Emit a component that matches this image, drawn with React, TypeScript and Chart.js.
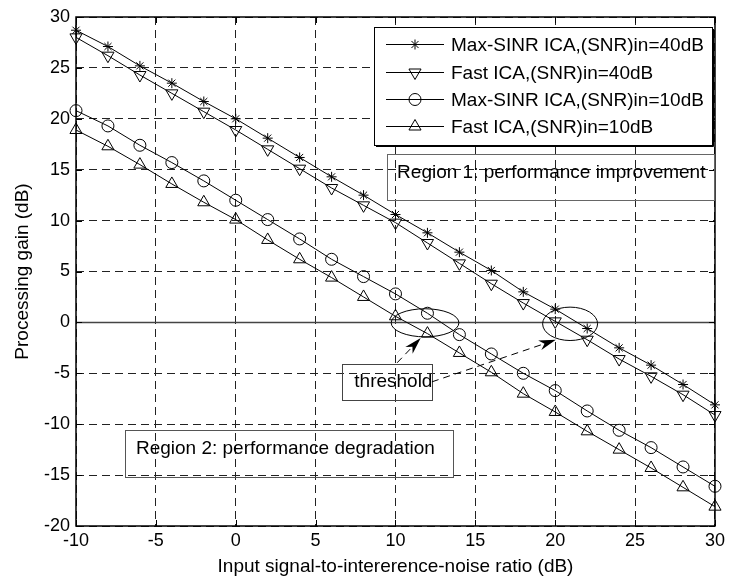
import React, { useEffect, useRef } from 'react';
import { Chart, registerables } from 'chart.js';

Chart.register(...registerables);

// ---------- data ----------
const xValues = [-10, -8, -6, -4, -2, 0, 2, 4, 6, 8, 10, 12, 14, 16, 18, 20, 22, 24, 26, 28, 30];
const maxSinr40 = [28.7, 27.1, 25.2, 23.5, 21.7, 20.0, 18.1, 16.2, 14.3, 12.5, 10.6, 8.8, 6.9, 5.1, 3.0, 1.3, -0.6, -2.5, -4.2, -6.1, -8.1];
const fastIca40 = [28.0, 26.2, 24.3, 22.5, 20.7, 18.9, 17.0, 15.1, 13.2, 11.5, 9.8, 7.8, 5.8, 3.8, 1.9, 0.1, -1.7, -3.6, -5.3, -7.1, -9.1];
const maxSinr10 = [20.8, 19.3, 17.4, 15.7, 13.9, 12.0, 10.1, 8.2, 6.2, 4.5, 2.8, 0.9, -1.2, -3.1, -5.0, -6.7, -8.7, -10.6, -12.3, -14.2, -16.1];
const fastIca10 = [18.9, 17.3, 15.5, 13.6, 11.8, 10.1, 8.1, 6.2, 4.4, 2.5, 0.6, -1.1, -3.0, -4.9, -7.0, -8.8, -10.7, -12.5, -14.3, -16.2, -18.1];

const seriesLabels = [
  'Max-SINR ICA,(SNR)in=40dB',
  'Fast ICA,(SNR)in=40dB',
  'Max-SINR ICA,(SNR)in=10dB',
  'Fast ICA,(SNR)in=10dB',
];
const xTitle = 'Input signal-to-intererence-noise ratio (dB)';
const yTitle = 'Processing gain (dB)';
const region1Text = 'Region 1: performance improvement';
const region2Text = 'Region 2: performance degradation';
const thresholdText = 'threshold';

const X_MIN = -10, X_MAX = 30, X_STEP = 5;
const Y_MIN = -20, Y_MAX = 30, Y_STEP = 5;

// ---------- styles / annotation geometry (data coordinates) ----------
const FONT = '"Liberation Sans", Arial, Helvetica, sans-serif';
const TEXT_SIZE = 19;
const TICK_SIZE = 18;

const textBoxes = [
  { text: region1Text, x1: 9.48, x2: 29.95, y1: 16.58, y2: 12.06, tx: 10.1, ty: 14.7, color: '#666' },
  { text: region2Text, x1: -6.94, x2: 13.6, y1: -10.56, y2: -15.18, tx: -6.25, ty: -12.45, color: '#555' },
  { text: thresholdText, x1: 6.67, x2: 12.28, y1: -4.07, y2: -7.6, tx: 7.42, ty: -5.84, color: '#444' },
];
const ellipses = [
  { cx: 11.85, cy: -0.04, rx: 2.12, ry: 1.38 },
  { cx: 20.93, cy: -0.14, rx: 1.72, ry: 1.64 },
];
const arrows = [
  { x1: 10.1, y1: -3.97, x2: 11.58, y2: -1.54 },
  { x1: 12.28, y1: -5.84, x2: 20.04, y2: -1.71 },
];

type Marker = 'star' | 'down' | 'circle' | 'up';
const markers: Marker[] = ['star', 'down', 'circle', 'up'];
const markerRadius: Record<Marker, number> = { star: 5, down: 7, circle: 6, up: 7 };

function drawMarker(ctx: CanvasRenderingContext2D, m: Marker, x: number, y: number) {
  const r = markerRadius[m];
  ctx.beginPath();
  if (m === 'star') {
    const d = r * Math.SQRT1_2;
    ctx.moveTo(x - r, y); ctx.lineTo(x + r, y);
    ctx.moveTo(x, y - r); ctx.lineTo(x, y + r);
    ctx.moveTo(x - d, y - d); ctx.lineTo(x + d, y + d);
    ctx.moveTo(x - d, y + d); ctx.lineTo(x + d, y - d);
  } else if (m === 'circle') {
    ctx.arc(x, y, r, 0, Math.PI * 2);
  } else {
    const s = m === 'up' ? 1 : -1;
    const h = r * Math.sin(Math.PI / 3);
    ctx.moveTo(x, y - s * r);
    ctx.lineTo(x + h, y + s * r / 2);
    ctx.lineTo(x - h, y + s * r / 2);
    ctx.closePath();
  }
  ctx.stroke();
}

function drawArrow(ctx: CanvasRenderingContext2D, x1: number, y1: number, x2: number, y2: number) {
  const ang = Math.atan2(y2 - y1, x2 - x1);
  const len = 17, half = 5, notch = 12;
  const cos = Math.cos(ang), sin = Math.sin(ang);
  const bx = x2 - cos * notch, by = y2 - sin * notch;
  ctx.save();
  ctx.setLineDash([7, 5]);
  ctx.lineWidth = 1;
  ctx.strokeStyle = '#000';
  ctx.beginPath();
  ctx.moveTo(x1, y1);
  ctx.lineTo(bx, by);
  ctx.stroke();
  ctx.setLineDash([]);
  ctx.fillStyle = '#000';
  ctx.beginPath();
  ctx.moveTo(x2, y2);
  ctx.lineTo(x2 - cos * len - sin * half, y2 - sin * len + cos * half);
  ctx.lineTo(bx, by);
  ctx.lineTo(x2 - cos * len + sin * half, y2 - sin * len - cos * half);
  ctx.closePath();
  ctx.fill();
  ctx.restore();
}

const overlayPlugin = {
  id: 'overlay',
  beforeDatasetsDraw(chart: any) {
    const { ctx, chartArea: a, scales } = chart;
    const y0 = Math.round(scales.y.getPixelForValue(0)) + 0.5;
    ctx.save();
    ctx.strokeStyle = '#444';
    ctx.lineWidth = 1.5;
    ctx.beginPath();
    ctx.moveTo(a.left, y0);
    ctx.lineTo(a.right, y0);
    ctx.stroke();
    ctx.restore();
  },
  afterDatasetsDraw(chart: any) {
    const { ctx, chartArea: a, scales } = chart;
    const xs = scales.x, ys = scales.y;
    const px = (v: number) => xs.getPixelForValue(v);
    const py = (v: number) => ys.getPixelForValue(v);
    ctx.save();
    // box
    ctx.strokeStyle = '#000';
    ctx.lineWidth = 1.5;
    ctx.strokeRect(a.left, a.top, a.right - a.left, a.bottom - a.top);
    // inward ticks
    ctx.lineWidth = 1;
    ctx.beginPath();
    for (let v = X_MIN; v <= X_MAX; v += X_STEP) {
      const p = Math.round(px(v)) + 0.5;
      ctx.moveTo(p, a.bottom); ctx.lineTo(p, a.bottom - 6);
      ctx.moveTo(p, a.top); ctx.lineTo(p, a.top + 6);
    }
    for (let v = Y_MIN; v <= Y_MAX; v += Y_STEP) {
      const p = Math.round(py(v)) + 0.5;
      ctx.moveTo(a.left, p); ctx.lineTo(a.left + 6, p);
      ctx.moveTo(a.right, p); ctx.lineTo(a.right - 6, p);
    }
    ctx.stroke();

    // text boxes
    ctx.font = `${TEXT_SIZE}px ${FONT}`;
    ctx.textBaseline = 'middle';
    ctx.textAlign = 'left';
    for (const b of textBoxes) {
      const l = Math.round(px(b.x1)) + 0.5, r = Math.round(px(b.x2)) + 0.5;
      const t = Math.round(py(b.y1)) + 0.5, bt = Math.round(py(b.y2)) + 0.5;
      ctx.strokeStyle = b.color;
      ctx.lineWidth = 1;
      ctx.strokeRect(l, t, r - l, bt - t);
      ctx.fillStyle = '#000';
      ctx.fillText(b.text, px(b.tx), py(b.ty));
    }

    // ellipses
    ctx.strokeStyle = '#000';
    ctx.lineWidth = 1;
    for (const e of ellipses) {
      const cx = px(e.cx), cy = py(e.cy);
      const rx = Math.abs(px(e.cx + e.rx) - cx), ry = Math.abs(py(e.cy + e.ry) - cy);
      ctx.beginPath();
      ctx.ellipse(cx, cy, rx, ry, 0, 0, Math.PI * 2);
      ctx.stroke();
    }

    // arrows
    for (const ar of arrows) {
      drawArrow(ctx, px(ar.x1), py(ar.y1), px(ar.x2), py(ar.y2));
    }

    // legend
    const lx = a.left + 298, ly = a.top + 10, lw = 338, lh = 118;
    ctx.fillStyle = '#fff';
    ctx.fillRect(lx, ly, lw, lh);
    ctx.strokeStyle = '#000';
    ctx.lineWidth = 1;
    ctx.strokeRect(lx + 0.5, ly + 0.5, lw, lh);
    ctx.lineWidth = 1;
    ctx.beginPath();
    ctx.moveTo(lx + lw + 1.5, ly + 2); ctx.lineTo(lx + lw + 1.5, ly + lh + 1.5);
    ctx.lineTo(lx + 2, ly + lh + 1.5);
    ctx.stroke();
    const rows = [17, 45, 72, 99];
    ctx.font = `${TEXT_SIZE}px ${FONT}`;
    ctx.textBaseline = 'middle';
    ctx.textAlign = 'left';
    seriesLabels.forEach((lab, i) => {
      const yy = ly + rows[i] + 0.5;
      ctx.strokeStyle = '#000';
      ctx.lineWidth = 1;
      ctx.beginPath();
      ctx.moveTo(lx + 12, yy);
      ctx.lineTo(lx + 70, yy);
      ctx.stroke();
      drawMarker(ctx, markers[i], lx + 41, yy);
      ctx.fillStyle = '#000';
      ctx.fillText(lab, lx + 77, yy + 1);
    });
    ctx.restore();
  },
};

const seriesValues = [maxSinr40, fastIca40, maxSinr10, fastIca10];

export default function App() {
  const ref = useRef<HTMLCanvasElement>(null);
  useEffect(() => {
    const canvas = ref.current;
    if (!canvas) return;
    const datasets = seriesValues.map((vals, i) => {
      const m = markers[i];
      return {
        label: seriesLabels[i],
        data: xValues.map((x, j) => ({ x, y: vals[j] })),
        borderColor: '#000',
        borderWidth: 1,
        pointStyle: m === 'star' ? 'star' : m === 'circle' ? 'circle' : 'triangle',
        pointRotation: m === 'down' ? 180 : 0,
        pointRadius: markerRadius[m],
        pointBorderColor: '#000',
        pointBackgroundColor: 'rgba(0,0,0,0)',
        pointBorderWidth: 1,
        tension: 0,
        clip: false as any,
      };
    });
    const chart = new Chart(canvas, {
      type: 'line',
      data: { datasets: datasets as any },
      options: {
        animation: false,
        responsive: false,
        devicePixelRatio: 1,
        layout: { padding: { left: 0, top: 17, right: 12, bottom: 0 } },
        plugins: { legend: { display: false }, tooltip: { enabled: false } },
        scales: {
          x: {
            type: 'linear',
            min: X_MIN,
            max: X_MAX,
            afterFit: (s: any) => { s.height = 55; },
            ticks: { stepSize: X_STEP, color: '#000', font: { family: FONT, size: TICK_SIZE }, padding: 4, maxRotation: 0 },
            grid: { color: '#222', lineWidth: 1, drawTicks: false },
            border: { display: false, dash: [8, 5] },
            title: { display: true, text: xTitle, color: '#000', font: { family: FONT, size: TEXT_SIZE }, padding: { top: 0, bottom: 3 } },
          },
          y: {
            type: 'linear',
            min: Y_MIN,
            max: Y_MAX,
            afterFit: (s: any) => { s.width = 76; },
            ticks: { stepSize: Y_STEP, color: '#000', font: { family: FONT, size: TICK_SIZE }, padding: 6 },
            grid: { color: '#222', lineWidth: 1, drawTicks: false },
            border: { display: false, dash: [8, 5] },
            title: { display: true, text: yTitle, color: '#000', font: { family: FONT, size: TEXT_SIZE }, padding: { top: 11, bottom: 0 } },
          },
        },
      },
      plugins: [overlayPlugin],
    });
    return () => chart.destroy();
  }, []);
  return (
    <div style={{ position: 'absolute', left: 0, top: 0, width: 729, height: 581, background: '#fff' }}>
      <canvas ref={ref} width={729} height={581} style={{ display: 'block', width: 729, height: 581 }} />
    </div>
  );
}
